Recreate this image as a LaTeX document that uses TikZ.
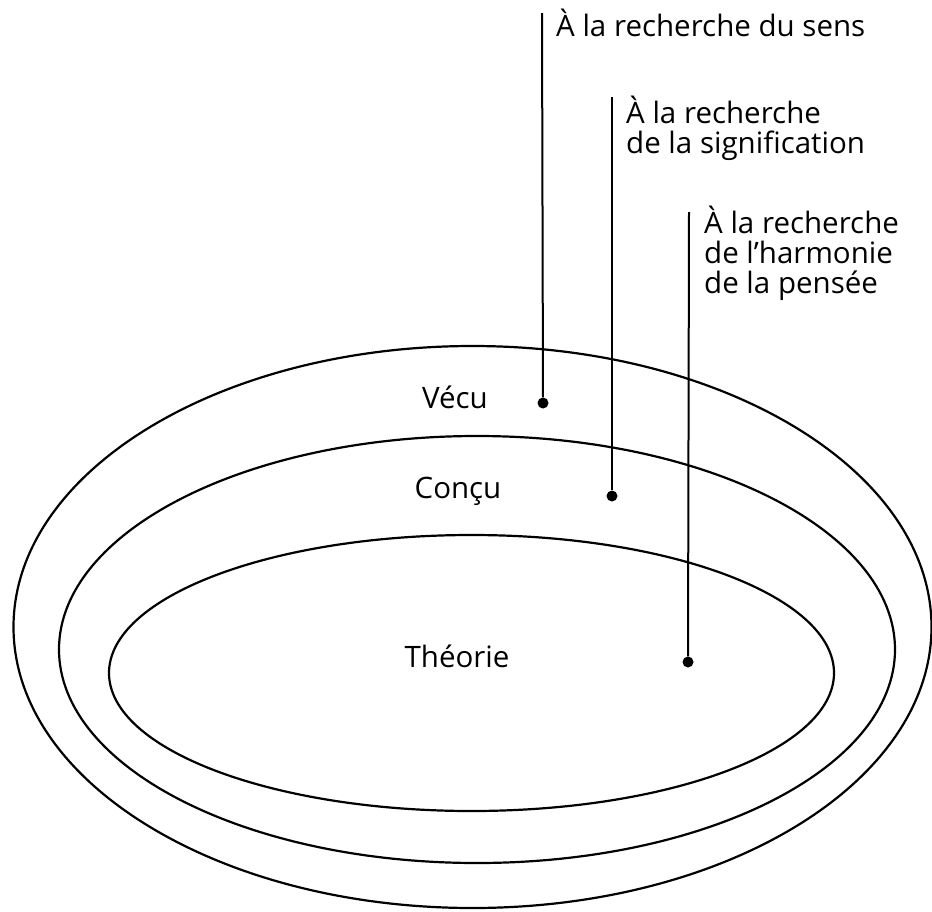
\documentclass[tikz,border=0pt]{standalone}
\usepackage{fontspec}
\setmainfont{Open Sans}
\begin{document}
\begin{tikzpicture} [
    x=1pt, y=-1pt,
    every node/.style = {font=\fontsize{29.5}{30}\selectfont, inner sep=0pt},
    cadre/.style = {line width=2.2pt},
    point/.style = {circle, fill=black, minimum size=11pt},
    renvoi/.style = {line width=2pt},
    legende/.style = {anchor=base west, align=left},
  ]
  \useasboundingbox (0,0) rectangle (932,911);

  % les trois ellipses
  \draw[cadre] (472.5,627) ellipse [x radius=459, y radius=281];
  \draw[cadre] (477,649.5) ellipse [x radius=418, y radius=213.5];
  \draw[cadre] (471.5,673) ellipse [x radius=362.5, y radius=138];

  \node[anchor=base] (vecu)    at (455,408) {Vécu};
  \node[anchor=base] (concu)   at (458,498) {Conçu};
  \node[anchor=base] (theorie) at (457,667) {Théorie};

  \node[point] (d1) at (543,403) {};
  \node[point] (d2) at (612,496) {};
  \node[point] (d3) at (688,662) {};

  \coordinate (t1) at (542,13);
  \coordinate (t2) at (612,97);
  \coordinate (t3) at (689,212);

  % ancrage sur la ligne de base de la derniere ligne
  \node[legende] (sens)  at (556,36)  {À la recherche du sens};
  \node[legende] (signi) at (626,153) {À la recherche\\de la signification};
  \node[legende] (harmo) at (704,293) {À la recherche\\de l’harmonie\\de la pensée};

  \draw[renvoi] (t1) -- (d1);
  \draw[renvoi] (t2) -- (d2);
  \draw[renvoi] (t3) -- (d3);
\end{tikzpicture}
\end{document}
